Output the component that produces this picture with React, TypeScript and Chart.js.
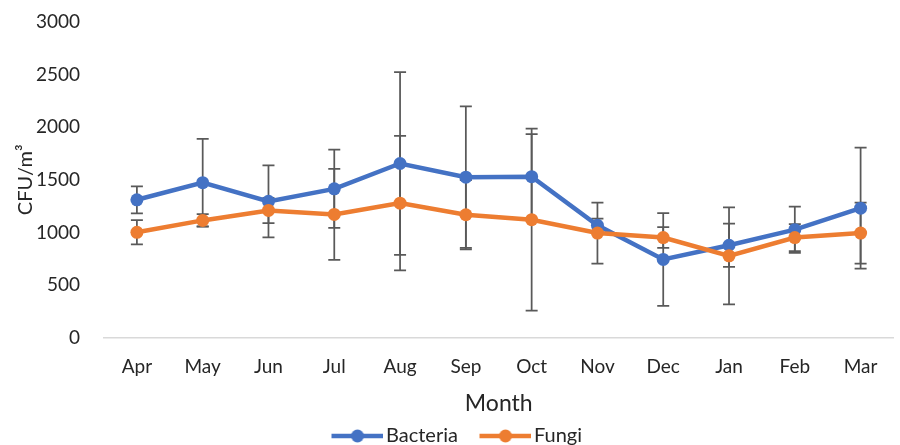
import React, { useEffect, useRef } from "react";
import { Chart, registerables } from "chart.js";

Chart.register(...registerables);

const months = ["Apr", "May", "Jun", "Jul", "Aug", "Sep", "Oct", "Nov", "Dec", "Jan", "Feb", "Mar"];
const bacteria = [1310, 1473, 1295, 1414, 1655, 1525, 1530, 1067, 743, 878, 1026, 1230];
const bacteriaErr = [128, 415, 342, 372, 868, 672, 405, 63, 441, 205, 220, 575];
const fungi = [1001, 1114, 1209, 1171, 1278, 1168, 1121, 994, 951, 777, 951, 994];
const fungiErr = [115, 60, 120, 432, 640, 330, 865, 290, 98, 460, 128, 290];

const BLUE = "#4472C4";
const ORANGE = "#ED7D31";
const TEXT = "#262626";
const FONT = "Lato, 'Open Sans', sans-serif";

// Legend marker: line with a dot, with transparent left margin so spacing matches
function legendMarker(color: string): HTMLCanvasElement {
  const c = document.createElement("canvas");
  c.width = 75;
  c.height = 14;
  const g = c.getContext("2d")!;
  g.strokeStyle = color;
  g.lineWidth = 4.5;
  g.beginPath();
  g.moveTo(23, 7);
  g.lineTo(75, 7);
  g.stroke();
  g.fillStyle = color;
  g.beginPath();
  g.arc(49, 7, 6.5, 0, Math.PI * 2);
  g.fill();
  return c;
}

const errorBarPlugin = {
  id: "errorBars",
  afterLayout(chart: any) {
    const lg = chart.legend;
    if (lg && lg.lineWidths && lg.lineWidths.length) lg.lineWidths[0] += 16;
  },
  beforeDatasetsDraw(chart: any) {
    const { ctx } = chart;
    const y = chart.scales.y;
    chart.data.datasets.forEach((ds: any, i: number) => {
      const meta = chart.getDatasetMeta(i);
      if (meta.hidden) return;
      const errs: number[] = ds.errors || [];
      meta.data.forEach((pt: any, j: number) => {
        const v = ds.data[j];
        const e = errs[j];
        if (e == null) return;
        const px = pt.x;
        const top = y.getPixelForValue(v + e);
        const bot = y.getPixelForValue(v - e);
        ctx.save();
        ctx.strokeStyle = "#595959";
        ctx.lineWidth = 1.75;
        ctx.beginPath();
        ctx.moveTo(px, top);
        ctx.lineTo(px, bot);
        ctx.moveTo(px - 6, top);
        ctx.lineTo(px + 6, top);
        ctx.moveTo(px - 6, bot);
        ctx.lineTo(px + 6, bot);
        ctx.stroke();
        ctx.restore();
      });
    });
  },
};

export default function App() {
  const ref = useRef<HTMLCanvasElement>(null);

  useEffect(() => {
    document.body.style.margin = "0";
    const chart = new Chart(ref.current!, {
      type: "line",
      data: {
        labels: months,
        datasets: [
          {
            label: "Bacteria",
            data: bacteria,
            errors: bacteriaErr,
            borderColor: BLUE,
            backgroundColor: BLUE,
            borderWidth: 4.5,
            pointRadius: 6.5,
            pointHoverRadius: 6.5,
            pointBackgroundColor: BLUE,
            pointBorderWidth: 0,
            pointStyle: "circle",
            order: 1,
          } as any,
          {
            label: "Fungi",
            data: fungi,
            errors: fungiErr,
            borderColor: ORANGE,
            backgroundColor: ORANGE,
            borderWidth: 4.5,
            pointRadius: 6.5,
            pointHoverRadius: 6.5,
            pointBackgroundColor: ORANGE,
            pointBorderWidth: 0,
            pointStyle: "circle",
            order: 0,
          } as any,
        ],
      },
      options: {
        animation: false,
        responsive: false,
        maintainAspectRatio: false,
        layout: { padding: { top: 22, right: 0, bottom: -11, left: 14 } },
        plugins: {
          tooltip: { enabled: false },
          legend: {
            position: "bottom",
            labels: {
              usePointStyle: true,
              pointStyleWidth: 60,
              color: TEXT,
              font: { family: FONT, size: 20 },
              padding: 6,
              generateLabels: (chart: any) =>
                chart.data.datasets.map((ds: any, i: number) => ({
                  text: ds.label,
                  fillStyle: ds.borderColor,
                  strokeStyle: ds.borderColor,
                  lineWidth: 0,
                  pointStyle: legendMarker(ds.borderColor),
                  hidden: false,
                  datasetIndex: i,
                  fontColor: TEXT,
                })),
            },
          },
        },
        scales: {
          x: {
            offset: true,
            grid: { display: false },
            border: { display: true, color: "#d9d9d9", width: 1.5 },
            ticks: { color: TEXT, font: { family: FONT, size: 19 }, padding: 10, maxRotation: 0 },
            title: {
              display: true,
              text: "Month",
              color: TEXT,
              font: { family: FONT, size: 23 },
              padding: { top: 1, bottom: 3 },
            },
            afterFit: (s: any) => {
              s.paddingLeft = 0;
              s.paddingRight = 0;
            },
          },
          y: {
            min: 0,
            max: 3000,
            ticks: {
              stepSize: 500,
              color: TEXT,
              font: { family: FONT, size: 19 },
              padding: 16,
              callback: (v: any) => String(v),
            },
            grid: { display: false },
            border: { display: false },
            title: {
              display: true,
              text: "CFU/m³",
              color: TEXT,
              font: { family: FONT, size: 20 },
              padding: { top: 0, bottom: 0 },
            },
            afterFit: (s: any) => {
              s.width = 90;
              s.paddingTop = 0;
              s.paddingBottom = 0;
            },
          },
        },
      },
      plugins: [errorBarPlugin],
    });
    return () => chart.destroy();
  }, []);

  return (
    <div style={{ width: 900, height: 445 }}>
      <canvas ref={ref} width={900} height={445} style={{ display: "block" }} />
    </div>
  );
}
